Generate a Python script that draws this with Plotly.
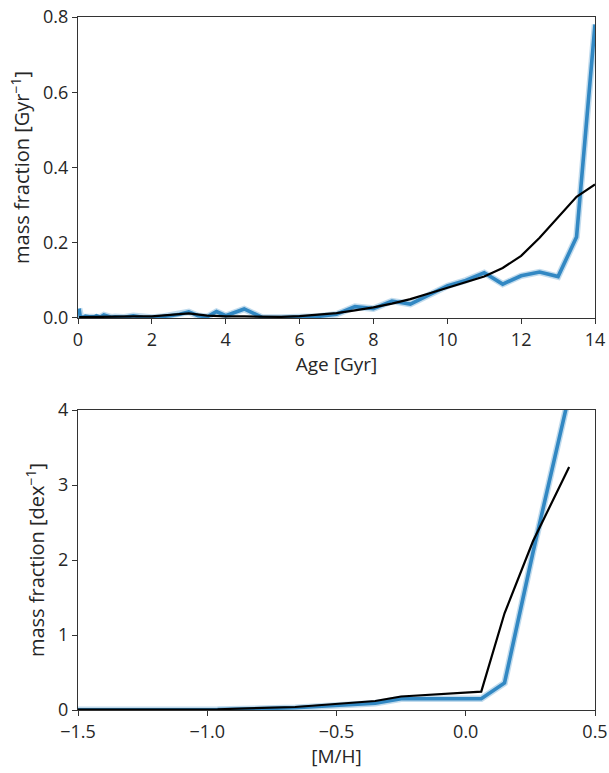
import plotly.graph_objects as go

# ---- data: top panel (age distribution) ----
ages = [0.03, 0.04, 0.05, 0.06, 0.07, 0.08, 0.09, 0.10, 0.15, 0.20, 0.25, 0.30, 0.35, 0.40,
        0.45, 0.50, 0.60, 0.70, 0.80, 0.90, 1.00, 1.25, 1.50, 1.75, 2.00, 2.25, 2.50, 2.75,
        3.00, 3.25, 3.50, 3.75, 4.00, 4.50, 5.00, 5.50, 6.00, 6.50, 7.00, 7.50, 8.00, 8.50,
        9.00, 9.50, 10.00, 10.50, 11.00, 11.50, 12.00, 12.50, 13.00, 13.50, 14.00]
age_fit = [0.025, 0.004, 0.003, 0.003, 0.003, 0.003, 0.003, 0.003, 0.002, 0.005, 0.003, 0.003,
           0.003, 0.003, 0.003, 0.006, 0.002, 0.008, 0.004, 0.002, 0.003, 0.002, 0.006, 0.002,
           0.001, 0.003, 0.006, 0.010, 0.016, 0.006, 0.003, 0.017, 0.006, 0.024, 0.001, 0.001,
           0.002, 0.004, 0.010, 0.030, 0.025, 0.045, 0.037, 0.060, 0.085, 0.100, 0.120, 0.090,
           0.112, 0.122, 0.110, 0.215, 0.780]
age_true_x = [0.03, 0.5, 1.0, 1.5, 2.0, 2.5, 3.0, 3.5, 4.0, 4.5, 5.0, 5.5, 6.0, 6.5, 7.0, 7.5,
              8.0, 8.5, 9.0, 9.5, 10.0, 10.5, 11.0, 11.5, 12.0, 12.5, 13.0, 13.5, 14.0]
age_true = [0.002, 0.003, 0.003, 0.004, 0.004, 0.008, 0.012, 0.006, 0.004, 0.004, 0.003, 0.003,
            0.005, 0.008, 0.013, 0.020, 0.028, 0.038, 0.050, 0.065, 0.080, 0.095, 0.110, 0.133,
            0.165, 0.213, 0.268, 0.322, 0.355]

# ---- data: bottom panel (metallicity distribution) ----
mh = [-2.27, -1.79, -1.49, -1.26, -0.96, -0.66, -0.35, -0.25, 0.06, 0.15, 0.26, 0.40]
mh_fit = [0.0, 0.0, 0.0, 0.0, 0.005, 0.03, 0.09, 0.15, 0.15, 0.36, 2.1, 4.2]
mh_true = [0.0, 0.0, 0.0, 0.0, 0.01, 0.04, 0.12, 0.18, 0.245, 1.29, 2.25, 3.24]

BLUE = "rgb(50,136,195)"
HALO = "rgba(50,136,195,0.30)"
FONT = "Open Sans"
TXT = "#262626"

fig = go.Figure()
# top panel
fig.add_trace(go.Scatter(x=ages, y=age_fit, mode="lines", xaxis="x", yaxis="y",
                         line=dict(color=HALO, width=6.5), showlegend=False))
fig.add_trace(go.Scatter(x=ages, y=age_fit, mode="lines", xaxis="x", yaxis="y",
                         line=dict(color=BLUE, width=3.6), showlegend=False))
fig.add_trace(go.Scatter(x=age_true_x, y=age_true, mode="lines", xaxis="x", yaxis="y",
                         line=dict(color="black", width=2.2), showlegend=False))
# bottom panel
fig.add_trace(go.Scatter(x=mh, y=mh_fit, mode="lines", xaxis="x2", yaxis="y2",
                         line=dict(color=HALO, width=6.5), showlegend=False))
fig.add_trace(go.Scatter(x=mh, y=mh_fit, mode="lines", xaxis="x2", yaxis="y2",
                         line=dict(color=BLUE, width=3.6), showlegend=False))
fig.add_trace(go.Scatter(x=mh, y=mh_true, mode="lines", xaxis="x2", yaxis="y2",
                         line=dict(color="black", width=2.2), showlegend=False))

axis_common = dict(showline=True, linecolor="#333", linewidth=1.3, mirror=True,
                   ticks="outside", ticklen=5, tickwidth=1.2, tickcolor="#333",
                   showgrid=False, zeroline=False, automargin=False,
                   tickfont=dict(family=FONT, size=18, color=TXT))
xtitle_font = dict(family=FONT, size=19, color=TXT)
ytitle_font = dict(family=FONT, size=20, color=TXT)

fig.update_layout(
    width=609, height=773,
    margin=dict(l=78, r=14, t=17, b=63),
    plot_bgcolor="white", paper_bgcolor="white",
    font=dict(family=FONT, size=18, color=TXT),
    xaxis=dict(domain=[0, 1], anchor="y", range=[0, 14], tickvals=[0, 2, 4, 6, 8, 10, 12, 14],
               title=dict(text="Age [Gyr]", standoff=2, font=xtitle_font),
               **axis_common),
    yaxis=dict(domain=[0.5657, 1], anchor="x", range=[0, 0.8],
               tickvals=[0, 0.2, 0.4, 0.6, 0.8], tickformat=".1f",
               title=dict(text="mass fraction [Gyr<sup>−1</sup>]", standoff=7, font=ytitle_font),
               **axis_common),
    xaxis2=dict(domain=[0, 1], anchor="y2", range=[-1.5, 0.5],
                tickvals=[-1.5, -1.0, -0.5, 0.0, 0.5], tickformat=".1f",
                title=dict(text="[M/H]", standoff=2, font=xtitle_font),
                **axis_common),
    yaxis2=dict(domain=[0, 0.4329], anchor="x2", range=[0, 4], tickvals=[0, 1, 2, 3, 4],
                title=dict(text="mass fraction [dex<sup>−1</sup>]", standoff=7, font=ytitle_font),
                **axis_common),
)

fig.write_html("out.html")
